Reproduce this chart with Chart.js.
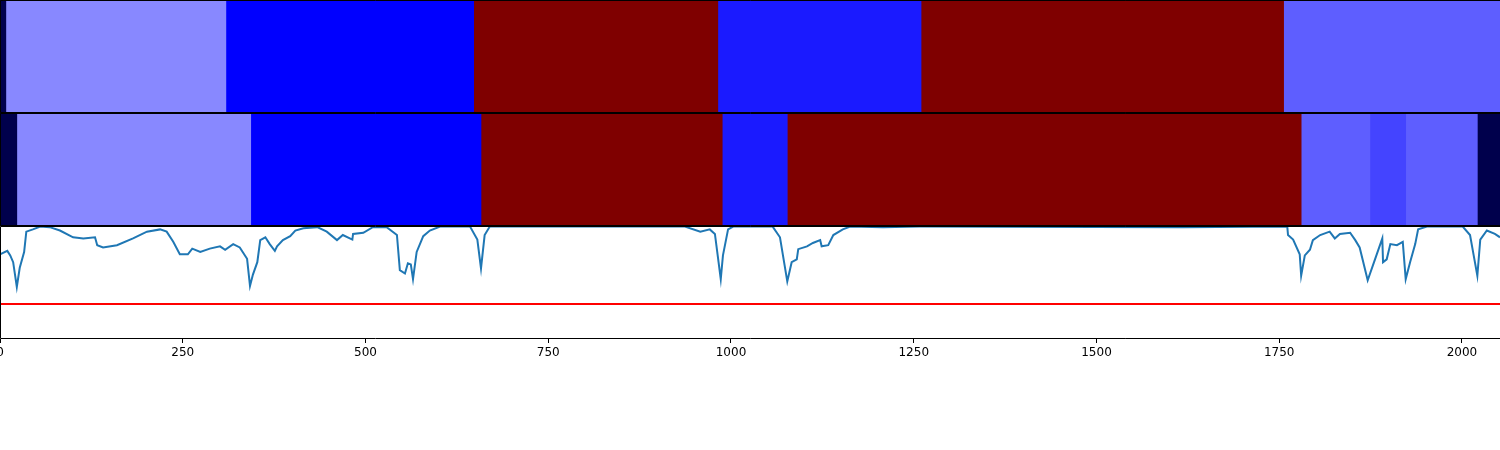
<!DOCTYPE html>
<html>
<head>
<meta charset="utf-8">
<script src="https://cdn.jsdelivr.net/npm/chart.js@4.4.1/dist/chart.umd.min.js"></script>
<style>
  body { margin: 0; background: #fff; }
  .panel { position: absolute; left: 0; width: 1500px; }
  #p1 { top: 0; height: 113px; }
  #p2 { top: 113px; height: 113px; }
  #p3 { top: 226px; height: 140px; }
</style>
</head>
<body>
<div class="panel" id="p1"><canvas id="row1"></canvas></div>
<div class="panel" id="p2"><canvas id="row2"></canvas></div>
<div class="panel" id="p3"><canvas id="signal"></canvas></div>
<script>
const xMax = 2052;
const xTicks = [0, 250, 500, 750, 1000, 1250, 1500, 1750, 2000];

// segment class colours (seismic-like palette)
const classColors = ['#00004c', '#0000ff', '#1a1aff', '#4444ff', '#5e5eff', '#8888ff', '#7f0000'];

const row1Edges = [0, 8, 309, 648, 982, 1260, 1756, 2052];
const row1Classes = [0, 5, 1, 6, 2, 6, 4];

const row2Edges = [0, 23, 343, 658, 988, 1077, 1780, 1874, 1923, 2021, 2052];
const row2Classes = [0, 5, 1, 6, 2, 6, 4, 3, 4, 0];

const lineX = [0, 10, 14, 18, 23, 27, 33, 36, 45, 55, 68, 82, 100, 114, 130, 133, 141, 160, 182, 201,
  219, 228, 237, 246, 257, 263, 274, 287, 301, 308, 319, 328, 338, 342, 346, 352, 356, 363, 369, 376,
  379, 387, 397, 404, 415, 434, 447, 461, 469, 482, 483, 497, 510, 529, 543, 547, 554, 558, 562, 565,
  570, 579, 588, 602, 643, 653, 658, 663, 670, 800, 937, 958, 971, 978, 986, 989, 996, 1003, 1057, 1067,
  1077, 1083, 1090, 1092, 1104, 1112, 1122, 1124, 1133, 1140, 1153, 1163, 1208, 1258, 1618, 1761, 1762, 1769, 1778, 1780,
  1785, 1792, 1796, 1806, 1819, 1826, 1833, 1847, 1854, 1860, 1871, 1881, 1891, 1892, 1897, 1902, 1911, 1919, 1923, 1929,
  1936, 1940, 1952, 2001, 2011, 2016, 2021, 2025, 2034, 2045, 2052];
const lineY = [0.75, 0.78, 0.74, 0.68, 0.46, 0.63, 0.77, 0.95, 0.97, 0.995, 0.99, 0.96, 0.90, 0.89, 0.90, 0.83, 0.81, 0.83, 0.89, 0.95,
  0.97, 0.95, 0.86, 0.75, 0.75, 0.80, 0.77, 0.80, 0.82, 0.79, 0.84, 0.81, 0.71, 0.47, 0.57, 0.68, 0.875, 0.90, 0.84, 0.78,
  0.82, 0.875, 0.91, 0.96, 0.98, 0.99, 0.95, 0.875, 0.92, 0.88, 0.93, 0.94, 0.99, 0.99, 0.92, 0.61, 0.58, 0.67, 0.66, 0.53,
  0.77, 0.91, 0.96, 0.995, 0.995, 0.88, 0.625, 0.92, 0.995, 0.995, 0.995, 0.95, 0.97, 0.93, 0.53, 0.74, 0.97, 0.995, 0.995, 0.90,
  0.51, 0.68, 0.705, 0.795, 0.82, 0.85, 0.875, 0.82, 0.83, 0.92, 0.97, 0.995, 0.99, 0.995, 0.99, 0.995, 0.92, 0.88, 0.75, 0.56,
  0.74, 0.79, 0.875, 0.92, 0.95, 0.89, 0.93, 0.94, 0.875, 0.81, 0.52, 0.705, 0.89, 0.68, 0.705, 0.84, 0.83, 0.86, 0.53, 0.68,
  0.84, 0.97, 0.995, 0.995, 0.92, 0.74, 0.56, 0.88, 0.96, 0.93, 0.90];
const threshold = 0.31;

Chart.defaults.font.family = '"DejaVu Sans", sans-serif';
Chart.defaults.color = '#000';

// matplotlib-like spines: top, bottom, left
const spines = {
  id: 'spines',
  afterDraw(chart) {
    const { ctx, chartArea: a } = chart;
    ctx.save();
    ctx.strokeStyle = '#000';
    ctx.lineWidth = 1;
    ctx.beginPath();
    ctx.moveTo(a.right, a.top + 0.5);
    ctx.lineTo(a.left + 0.5, a.top + 0.5);
    ctx.lineTo(a.left + 0.5, a.bottom - 0.5);
    ctx.lineTo(a.right, a.bottom - 0.5);
    ctx.stroke();
    ctx.restore();
  }
};

function bandChart(id, edges, classes) {
  const datasets = classes.map((c, i) => ({
    data: [[edges[i], edges[i + 1]]],
    backgroundColor: classColors[c],
    borderWidth: 0,
    grouped: false,
    barPercentage: 1,
    categoryPercentage: 1
  }));
  return new Chart(document.getElementById(id), {
    type: 'bar',
    data: { labels: [''], datasets: datasets },
    options: {
      indexAxis: 'y',
      responsive: true,
      maintainAspectRatio: false,
      animation: false,
      layout: { padding: 0 },
      plugins: { legend: { display: false }, tooltip: { enabled: false } },
      scales: {
        x: { type: 'linear', min: 0, max: xMax, display: false },
        y: { display: false }
      }
    },
    plugins: [spines]
  });
}

bandChart('row1', row1Edges, row1Classes);
bandChart('row2', row2Edges, row2Classes);

new Chart(document.getElementById('signal'), {
  type: 'line',
  data: {
    datasets: [
      {
        data: lineX.map((x, i) => ({ x: x, y: lineY[i] })),
        borderColor: '#1f77b4',
        borderWidth: 2,
        pointRadius: 0,
        tension: 0
      },
      {
        data: [{ x: 0, y: threshold }, { x: xMax, y: threshold }],
        borderColor: '#ff0000',
        borderWidth: 2,
        pointRadius: 0
      }
    ]
  },
  options: {
    responsive: true,
    maintainAspectRatio: false,
    animation: false,
    layout: { padding: 0 },
    plugins: { legend: { display: false }, tooltip: { enabled: false } },
    scales: {
      x: {
        type: 'linear',
        min: 0,
        max: xMax,
        afterBuildTicks: (scale) => { scale.ticks = xTicks.map(v => ({ value: v })); },
        afterFit: (scale) => { scale.paddingLeft = 0; scale.paddingRight = 0; scale.height = 27; },
        border: { display: false },
        grid: { drawOnChartArea: false, drawTicks: true, tickLength: 4, color: '#000' },
        ticks: {
          font: { size: 12 },
          padding: 3,
          maxRotation: 0,
          autoSkip: false,
          callback: (v) => String(v)
        }
      },
      y: { min: 0, max: 1, display: false }
    }
  },
  plugins: [spines]
});
</script>
</body>
</html>
